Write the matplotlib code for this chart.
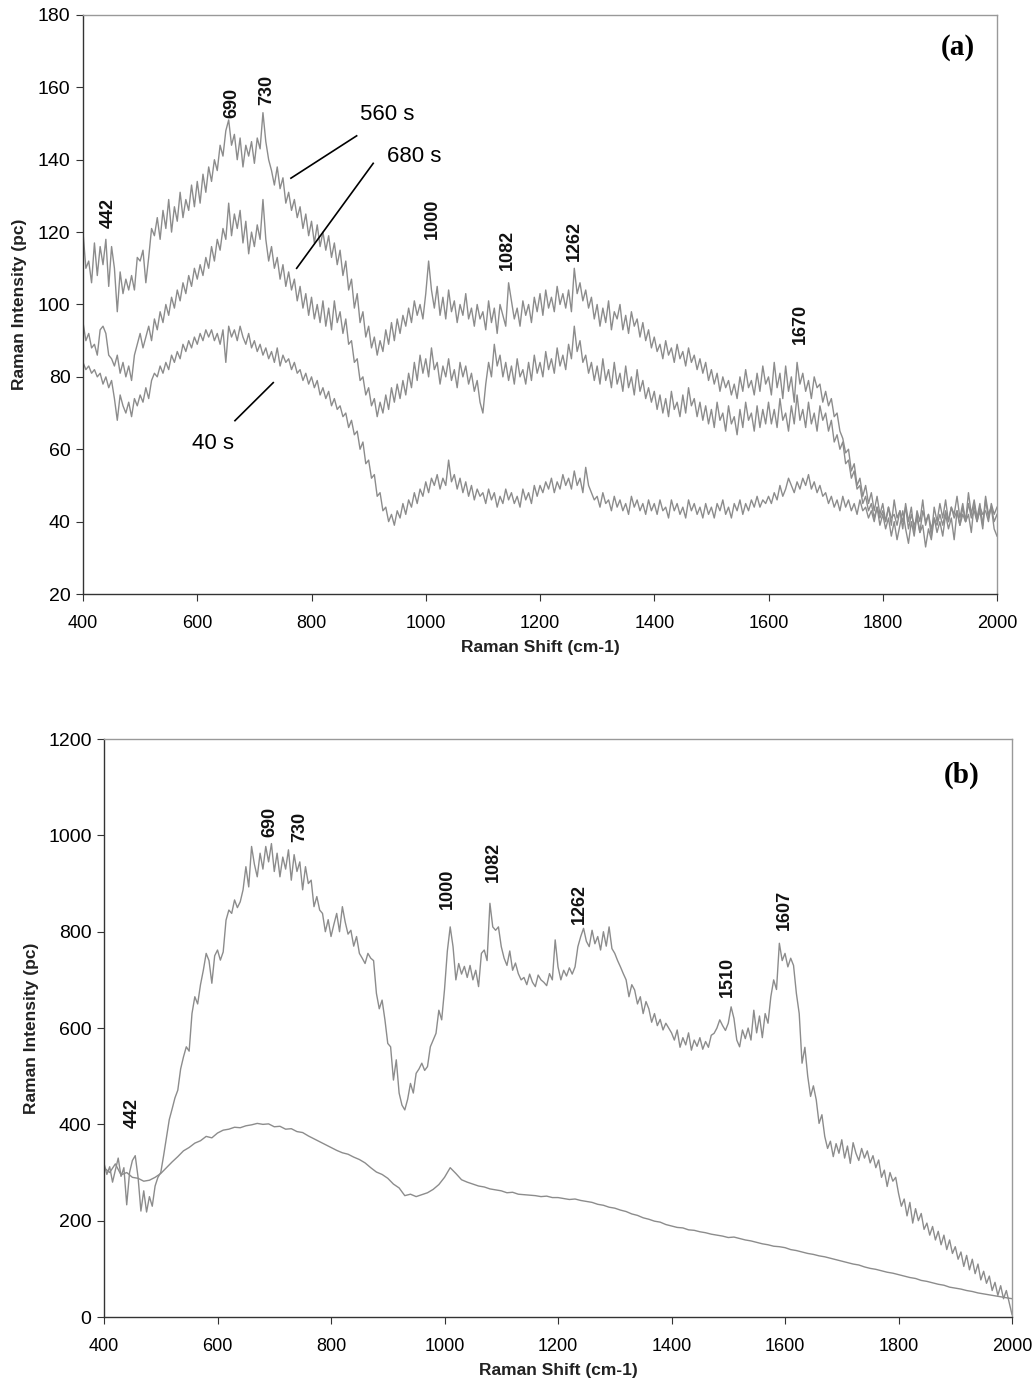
import matplotlib
matplotlib.use("Agg")
import matplotlib.pyplot as plt
import numpy as np

plt.rcParams["font.family"] = ["Liberation Sans", "DejaVu Sans"]

# Raman shift grids (cm-1)
shift = np.arange(400, 2001, 5)
shift_coarse = np.arange(400, 2001, 10)

# panel (a) spectra, every 5 cm-1
a_560s = [
    120, 110, 112, 106, 117, 108, 116, 111, 118, 105, 116, 110, 98, 109, 103, 107, 104, 108, 104, 113,
    112, 115, 106, 113, 121, 119, 124, 118, 126, 121, 129, 120, 127, 123, 131, 124, 129, 126, 133, 127,
    134, 128, 136, 131, 138, 134, 140, 137, 144, 141, 148, 151, 144, 147, 140, 146, 138, 144, 141, 145,
    139, 146, 143, 153, 145, 140, 137, 133, 138, 132, 135, 128, 131, 126, 129, 124, 127, 121, 125, 119,
    123, 117, 122, 116, 120, 115, 119, 113, 117, 111, 115, 108, 112, 104, 107, 99, 103, 95, 98, 91,
    94, 88, 91, 86, 90, 87, 93, 89, 95, 90, 96, 92, 97, 94, 99, 95, 101, 97, 100, 96,
    103, 112, 104, 99, 105, 97, 102, 96, 104, 98, 101, 95, 100, 97, 103, 96, 99, 94, 100, 96,
    98, 93, 101, 95, 99, 92, 100, 97, 94, 106, 101, 96, 99, 94, 101, 97, 100, 95, 102, 98,
    103, 97, 104, 99, 102, 98, 105, 100, 103, 99, 104, 98, 110, 103, 106, 101, 104, 99, 102, 96,
    100, 94, 99, 95, 101, 93, 98, 96, 100, 93, 97, 92, 98, 94, 96, 91, 95, 90, 93, 88,
    91, 87, 89, 85, 90, 86, 88, 84, 89, 85, 87, 83, 88, 84, 86, 82, 85, 81, 84, 79,
    82, 78, 81, 76, 80, 77, 79, 75, 78, 74, 80, 76, 82, 77, 79, 75, 81, 76, 83, 78,
    80, 75, 84, 77, 81, 74, 83, 76, 80, 73, 84, 78, 81, 76, 79, 74, 80, 77, 78, 73,
    76, 72, 74, 69, 70, 65, 63, 59, 60, 54, 56, 50, 52, 47, 50, 45, 48, 43, 47, 42,
    45, 40, 44, 39, 46, 41, 43, 38, 45, 40, 44, 37, 43, 40, 46, 39, 42, 36, 44, 40,
    45, 41, 46, 40, 44, 42, 47, 41, 45, 40, 48, 42, 46, 41, 45, 39, 47, 42, 44, 38,
    36,
]
a_680s = [
    95, 90, 92, 88, 89, 86, 93, 94, 92, 86, 85, 83, 86, 81, 84, 80, 83, 79, 86, 89,
    92, 88, 91, 94, 90, 96, 93, 98, 95, 100, 97, 102, 99, 104, 101, 106, 103, 108, 105, 110,
    107, 111, 108, 113, 110, 116, 112, 118, 115, 121, 118, 128, 119, 125, 121, 126, 117, 123, 114, 120,
    116, 122, 118, 129, 118, 112, 116, 110, 113, 107, 111, 105, 109, 104, 107, 101, 105, 99, 103, 97,
    102, 96, 100, 95, 101, 94, 99, 93, 101, 95, 98, 92, 96, 89, 90, 84, 85, 79, 80, 75,
    77, 72, 74, 69, 73, 70, 75, 71, 77, 73, 78, 74, 79, 75, 81, 77, 84, 79, 86, 81,
    85, 80, 88, 82, 84, 78, 83, 80, 85, 79, 82, 77, 84, 80, 83, 78, 81, 76, 79, 73,
    70, 78, 84, 80, 89, 83, 86, 80, 84, 79, 83, 78, 85, 80, 82, 78, 84, 79, 86, 81,
    84, 80, 87, 82, 85, 81, 88, 83, 86, 82, 89, 85, 94, 87, 90, 84, 86, 81, 84, 79,
    83, 78, 85, 79, 82, 77, 84, 78, 81, 76, 83, 77, 80, 75, 82, 76, 79, 74, 77, 73,
    76, 71, 75, 70, 74, 69, 76, 71, 73, 69, 75, 70, 77, 72, 74, 69, 73, 68, 72, 67,
    71, 66, 73, 68, 70, 65, 72, 67, 69, 64, 71, 66, 73, 68, 70, 65, 72, 66, 71, 67,
    73, 67, 71, 66, 74, 68, 70, 65, 72, 67, 75, 68, 71, 66, 73, 67, 70, 65, 72, 68,
    70, 65, 68, 62, 64, 60, 62, 56, 57, 52, 54, 49, 50, 45, 47, 43, 45, 41, 44, 39,
    42, 38, 41, 36, 40, 35, 39, 43, 38, 34, 40, 36, 42, 37, 39, 33, 38, 35, 41, 37,
    40, 36, 42, 38, 41, 35, 43, 39, 44, 40, 42, 37, 45, 40, 43, 38, 46, 41, 44, 40,
    42,
]
a_40s = [
    84, 82, 83, 81, 82, 80, 81, 78, 80, 77, 79, 74, 68, 75, 72, 70, 73, 69, 74, 72,
    75, 73, 77, 74, 79, 81, 80, 83, 81, 84, 82, 86, 84, 87, 85, 89, 87, 90, 88, 91,
    89, 92, 90, 93, 91, 93, 90, 92, 89, 93, 84, 94, 91, 93, 90, 94, 91, 89, 92, 88,
    90, 87, 89, 86, 88, 85, 87, 84, 88, 83, 86, 84, 85, 82, 84, 81, 82, 79, 81, 78,
    80, 77, 79, 75, 77, 74, 76, 72, 74, 71, 72, 69, 70, 66, 68, 64, 65, 60, 62, 56,
    57, 52, 53, 47, 48, 43, 44, 40, 42, 39, 43, 41, 45, 42, 46, 44, 48, 45, 49, 47,
    51, 48, 52, 50, 53, 49, 52, 50, 57, 51, 53, 49, 52, 48, 51, 47, 50, 46, 49, 47,
    48, 45, 49, 46, 48, 44, 47, 45, 49, 46, 48, 45, 47, 44, 49, 46, 48, 45, 50, 47,
    50, 48, 51, 49, 52, 48, 51, 49, 53, 50, 52, 49, 54, 50, 52, 48, 55, 50, 48, 46,
    47, 44, 48, 45, 46, 43, 47, 44, 46, 43, 45, 42, 47, 44, 46, 43, 45, 42, 46, 43,
    45, 42, 46, 43, 44, 41, 46, 43, 45, 42, 44, 41, 46, 43, 45, 42, 44, 41, 45, 42,
    44, 41, 45, 43, 46, 42, 44, 41, 45, 43, 46, 42, 45, 43, 46, 44, 47, 44, 46, 45,
    47, 45, 48, 46, 50, 47, 49, 52, 50, 48, 51, 49, 52, 50, 53, 49, 51, 48, 50, 47,
    48, 45, 47, 44, 46, 43, 47, 44, 46, 43, 45, 42, 46, 43, 44, 41, 43, 40, 44, 41,
    43, 40, 44, 41, 42, 39, 43, 40, 44, 38, 42, 39, 41, 37, 43, 40, 42, 38, 41, 39,
    42, 39, 43, 40, 44, 41, 43, 39, 42, 40, 45, 41, 43, 40, 44, 42, 43, 40, 45, 42,
    44,
]

# panel (b) spectra
b_upper = [
    319, 296, 312, 280, 305, 330, 292, 310, 233, 300, 325, 335, 290, 220, 262, 218, 250, 230, 272, 290,
    300, 335, 372, 410, 432, 455, 471, 515, 540, 561, 552, 630, 665, 650, 690, 720, 755, 740, 693, 750,
    762, 741, 758, 824, 845, 838, 866, 850, 862, 887, 935, 893, 977, 940, 914, 963, 930, 977, 945, 983,
    925, 963, 914, 955, 930, 970, 907, 960, 925, 945, 887, 935, 900, 907, 852, 873, 845, 838, 800, 825,
    790, 815, 838, 800, 852, 820, 795, 803, 770, 790, 755, 745, 734, 755, 745, 740, 672, 640, 658, 617,
    568, 561, 492, 534, 465, 440, 430, 452, 485, 465, 506, 515, 527, 512, 520, 561, 575, 589, 637, 617,
    680, 760, 810, 769, 700, 734, 712, 728, 705, 730, 700, 720, 686, 755, 762, 740, 859, 810, 803, 810,
    769, 745, 730, 760, 720, 735, 713, 700, 705, 690, 712, 695, 686, 710, 700, 695, 688, 713, 700, 783,
    727, 700, 720, 708, 725, 712, 727, 769, 790, 807, 780, 769, 803, 775, 790, 762, 800, 770, 810, 765,
    755, 740, 727, 713, 700, 665, 690, 679, 650, 665, 630, 655, 640, 612, 630, 605, 618, 596, 610, 600,
    590, 575, 596, 560, 580, 565, 590, 554, 575, 562, 580, 556, 572, 560, 585, 589, 600, 617, 605, 595,
    610, 644, 620, 575, 561, 596, 578, 600, 575, 637, 590, 625, 580, 630, 610, 665, 700, 680, 776, 740,
    755, 727, 745, 730, 672, 630, 527, 560, 500, 458, 480, 451, 402, 420, 375, 350, 365, 333, 360, 340,
    368, 330, 355, 319, 362, 340, 325, 350, 330, 345, 320, 335, 310, 326, 290, 305, 271, 300, 282, 290,
    257, 230, 245, 210, 238, 195, 225, 200, 215, 182, 195, 170, 188, 160, 178, 150, 170, 140, 160, 132,
    146, 120, 135, 105, 128, 98, 120, 90, 110, 77, 95, 70, 85, 55, 72, 45, 65, 38, 55, 30,
    5,
]
b_lower = [
    310, 300, 318, 295, 300, 290, 288, 282, 284, 290,
    298, 310, 322, 333, 345, 352, 361, 366, 375, 372,
    382, 388, 390, 394, 393, 397, 399, 402, 400, 401,
    395, 396, 390, 391, 385, 383, 376, 370, 364, 358,
    352, 346, 341, 338, 332, 327, 320, 310, 301, 296,
    288, 276, 268, 252, 255, 250, 254, 258, 265, 275,
    290, 310, 298, 285, 280, 276, 272, 270, 266, 264,
    262, 258, 259, 255, 254, 253, 252, 250, 251, 248,
    248, 246, 244, 245, 242, 240, 238, 234, 232, 228,
    226, 222, 219, 214, 211, 206, 203, 199, 197, 192,
    189, 186, 185, 181, 180, 177, 175, 172, 170, 168,
    165, 166, 163, 160, 158, 155, 152, 150, 147, 146,
    144, 140, 138, 135, 132, 130, 127, 125, 122, 119,
    116, 113, 110, 108, 104, 101, 99, 96, 93, 91,
    88, 85, 82, 80, 76, 74, 71, 68, 66, 62,
    60, 58, 55, 53, 50, 48, 46, 44, 42, 40,
    38,
]

# peak labels: (text, x, y of label base)
peaks_a = [("442", 444, 121), ("690", 661, 151.5), ("730", 722, 155),
           ("1000", 1011, 118), ("1082", 1142, 109.5), ("1262", 1261, 112),
           ("1670", 1655, 89)]
peaks_b = [("442", 450, 392), ("690", 692, 997), ("730", 745, 987),
           ("1000", 1005, 848), ("1082", 1086, 904), ("1262", 1238, 817),
           ("1510", 1498, 665), ("1607", 1598, 803)]

GREY = "#8c8c8c"

fig = plt.figure(figsize=(10.35, 13.84), dpi=100)
ax1 = fig.add_axes([0.0802, 0.5708, 0.8831, 0.4184])
ax2 = fig.add_axes([0.1005, 0.0484, 0.8773, 0.4176])


def style(ax, ylim, yticks):
    ax.set_xlim(400, 2000)
    ax.set_ylim(*ylim)
    ax.set_xticks(np.arange(400, 2001, 200))
    ax.set_yticks(yticks)
    ax.tick_params(direction="out", length=5, width=0.8, color="#333333")
    ax.tick_params(axis="x", pad=10, labelsize=13)
    ax.tick_params(axis="y", pad=4, labelsize=14)
    for s in ["top", "right"]:
        ax.spines[s].set_color("#999999")
        ax.spines[s].set_linewidth(1.0)
    for s in ["left", "bottom"]:
        ax.spines[s].set_color("#333333")
        ax.spines[s].set_linewidth(1.0)
    ax.set_xlabel("Raman Shift (cm-1)", fontsize=12.5, fontweight="bold",
                  color="#222222", labelpad=6)
    ax.set_ylabel("Raman Intensity (pc)", fontsize=12.5, fontweight="bold",
                  color="#222222")


# (a)
for y in (a_560s, a_680s, a_40s):
    ax1.plot(shift, y, color=GREY, lw=1.0)
style(ax1, (20, 180), np.arange(20, 181, 20))
ax1.yaxis.set_label_coords(-0.061, 0.5)
for txt, x, y in peaks_a:
    ax1.text(x, y, txt, rotation=90, ha="center", va="bottom",
             fontsize=13, fontweight="bold", color="#111111")
ax1.text(932, 152.4, "560 s", fontsize=16, ha="center", va="center")
ax1.text(979, 140.8, "680 s", fontsize=16, ha="center", va="center")
ax1.text(628, 61.7, "40 s", fontsize=16, ha="center", va="center")
ax1.plot([879, 764], [146.6, 134.9], color="black", lw=1.2)
ax1.plot([908, 774], [139.0, 110.0], color="black", lw=1.2)
ax1.plot([733, 666], [78.4, 67.9], color="black", lw=1.2)
ax1.text(1932, 171, "(a)", fontsize=21, fontweight="bold", ha="center",
         va="center", family=["Liberation Serif", "DejaVu Serif"])

# (b)
ax2.plot(shift, b_upper, color=GREY, lw=1.0)
ax2.plot(shift_coarse, b_lower, color=GREY, lw=1.0)
style(ax2, (0, 1200), np.arange(0, 1201, 200))
ax2.yaxis.set_label_coords(-0.072, 0.5)
for txt, x, y in peaks_b:
    ax2.text(x, y, txt, rotation=90, ha="center", va="bottom",
             fontsize=13, fontweight="bold", color="#111111")
ax2.text(1911, 1125, "(b)", fontsize=21, fontweight="bold", ha="center",
         va="center", family=["Liberation Serif", "DejaVu Serif"])

fig.savefig("out.png", dpi=100)
